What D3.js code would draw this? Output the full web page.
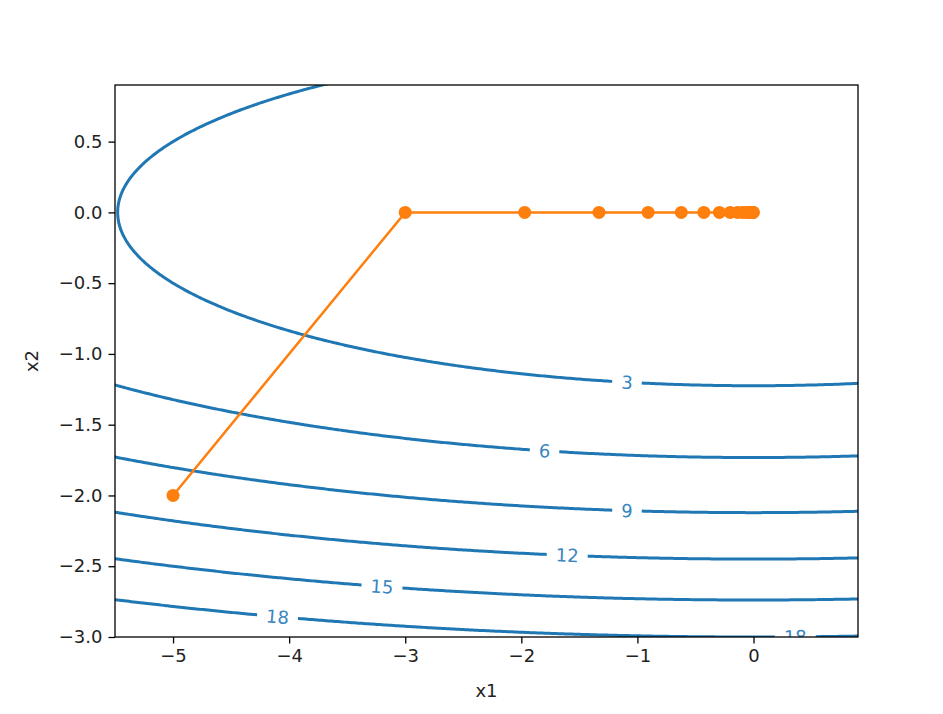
<!DOCTYPE html>
<html>
<head>
<meta charset="utf-8">
<script src="https://cdn.jsdelivr.net/npm/d3@7"></script>
<style>
  body { margin: 0; background: #fff; }
  text { font-family: "DejaVu Sans", sans-serif; }
</style>
</head>
<body>
<script>
// contour levels and where their labels sit (x1 of each label)
var levels = [3, 6, 9, 12, 15, 18];
var labelLevels = [3, 6, 9, 12, 15, 18, 18];
var labelX1 = [-1.09, -1.80, -1.09, -1.605, -3.20, -4.10, 0.36];

// optimisation trajectory
var pathX1 = [-5, -3, -1.971, -1.331, -0.908, -0.622, -0.428, -0.294, -0.202, -0.139,
  -0.096, -0.066, -0.046, -0.032, -0.022, -0.015, -0.0105, -0.0073, -0.0051, -0.0036, -0.0026];
var pathX2 = [-2, 0, 0, 0, 0, 0, 0, 0, 0, 0, 0, 0, 0, 0, 0, 0, 0, 0, 0, 0, 0];

var xTicks = [-5, -4, -3, -2, -1, 0];
var yTicks = [0.5, 0.0, -0.5, -1.0, -1.5, -2.0, -2.5, -3.0];

// objective surface
var f = function(a, b) { return 0.1 * a * a + 2 * b * b; };

var W = 943, H = 714;
var pLeft = 115, pRight = 858, pTop = 85, pBottom = 637;
var blue = '#1f77b4', orange = '#ff7f0e';

var svg = d3.select('body').append('svg').attr('width', W).attr('height', H);

var x = d3.scaleLinear().domain([-5.5, 0.9]).range([pLeft, pRight]);
var y = d3.scaleLinear().domain([-3.0, 0.9]).range([pBottom, pTop]);

var defs = svg.append('defs');
defs.append('clipPath').attr('id', 'plot')
  .append('rect').attr('x', pLeft).attr('y', pTop).attr('width', pRight - pLeft).attr('height', pBottom - pTop);

// grid for the contours
var step = 0.02;
var nx = Math.round((0.9 + 5.5) / step) + 3, ny = Math.round((0.9 + 3.0) / step) + 3;
var x0 = -5.5 - step, y0 = -3.0 - step;
var values = new Array(nx * ny);
for (var j = 0; j < ny; j++) {
  for (var i = 0; i < nx; i++) {
    values[j * nx + i] = f(x0 + i * step, y0 + j * step);
  }
}
var contours = d3.contours().size([nx, ny]).thresholds(levels)(values);

var gridPath = d3.geoPath(d3.geoTransform({
  point: function(gx, gy) {
    this.stream.point(x(x0 + (gx - 0.5) * step), y(y0 + (gy - 0.5) * step));
  }
}));

// label positions + angles
var fontSize = 18;
var labels = labelLevels.map(function(lv, k) {
  var a = labelX1[k];
  var b = -Math.sqrt((lv - 0.1 * a * a) / 2);
  var a2 = a + 0.05, b2 = -Math.sqrt((lv - 0.1 * a2 * a2) / 2);
  var ang = Math.atan2(y(b2) - y(b), x(a2) - x(a)) * 180 / Math.PI;
  return { lv: lv, px: x(a), py: y(b), ang: ang };
});

// mask cutting gaps in the lines under labels
var mask = defs.append('mask').attr('id', 'gaps').attr('maskUnits', 'userSpaceOnUse')
  .attr('x', 0).attr('y', 0).attr('width', W).attr('height', H);
mask.append('rect').attr('width', W).attr('height', H).attr('fill', '#fff');
mask.selectAll('rect.gap').data(labels).enter().append('rect').attr('class', 'gap')
  .attr('x', function(d) { var w = String(d.lv).length * 11.5 + 18; return -w / 2; })
  .attr('y', -12)
  .attr('width', function(d) { return String(d.lv).length * 11.5 + 18; })
  .attr('height', 24)
  .attr('fill', '#000')
  .attr('transform', function(d) { return 'translate(' + d.px + ',' + d.py + ') rotate(' + d.ang + ')'; });

var plot = svg.append('g').attr('clip-path', 'url(#plot)');

plot.append('g').attr('mask', 'url(#gaps)')
  .selectAll('path').data(contours).enter().append('path')
  .attr('d', gridPath)
  .attr('fill', 'none')
  .attr('stroke', blue)
  .attr('stroke-width', 3);

plot.selectAll('text.clabel').data(labels).enter().append('text').attr('class', 'clabel')
  .attr('transform', function(d) { return 'translate(' + d.px + ',' + d.py + ') rotate(' + d.ang + ')'; })
  .attr('text-anchor', 'middle')
  .attr('dy', '0.36em')
  .attr('font-size', fontSize)
  .attr('fill', '#3a86c0')
  .text(function(d) { return d.lv; });

// trajectory
var pts = pathX1.map(function(a, k) { return [a, pathX2[k]]; });
plot.append('path')
  .attr('d', d3.line().x(function(d) { return x(d[0]); }).y(function(d) { return y(d[1]); })(pts))
  .attr('fill', 'none')
  .attr('stroke', orange)
  .attr('stroke-width', 2.5);
plot.selectAll('circle').data(pts).enter().append('circle')
  .attr('cx', function(d) { return x(d[0]); })
  .attr('cy', function(d) { return y(d[1]); })
  .attr('r', 6.5)
  .attr('fill', orange);

// axes
var xAxis = svg.append('g').attr('transform', 'translate(0,' + pBottom + ')')
  .call(d3.axisBottom(x).tickValues(xTicks).tickFormat(d3.format('d')).tickSizeOuter(0).tickSize(6.5).tickPadding(6));
var yAxis = svg.append('g').attr('transform', 'translate(' + pLeft + ',0)')
  .call(d3.axisLeft(y).tickValues(yTicks).tickFormat(d3.format('.1f')).tickSizeOuter(0).tickSize(6.5).tickPadding(6));
[xAxis, yAxis].forEach(function(ax) {
  ax.select('.domain').remove();
  ax.selectAll('line').attr('stroke', '#000').attr('stroke-width', 1.3);
  ax.selectAll('text').attr('font-size', fontSize).attr('fill', '#222').attr('font-family', '"DejaVu Sans", sans-serif');
});

svg.append('rect').attr('x', pLeft).attr('y', pTop).attr('width', pRight - pLeft).attr('height', pBottom - pTop)
  .attr('fill', 'none').attr('stroke', '#000').attr('stroke-width', 1.3);

svg.append('text').attr('x', (pLeft + pRight) / 2).attr('y', 697).attr('text-anchor', 'middle')
  .attr('font-size', fontSize).attr('fill', '#222').text('x1');
svg.append('text').attr('transform', 'translate(38,' + ((pTop + pBottom) / 2) + ') rotate(-90)')
  .attr('text-anchor', 'middle').attr('font-size', fontSize).attr('fill', '#222').text('x2');
</script>
</body>
</html>
